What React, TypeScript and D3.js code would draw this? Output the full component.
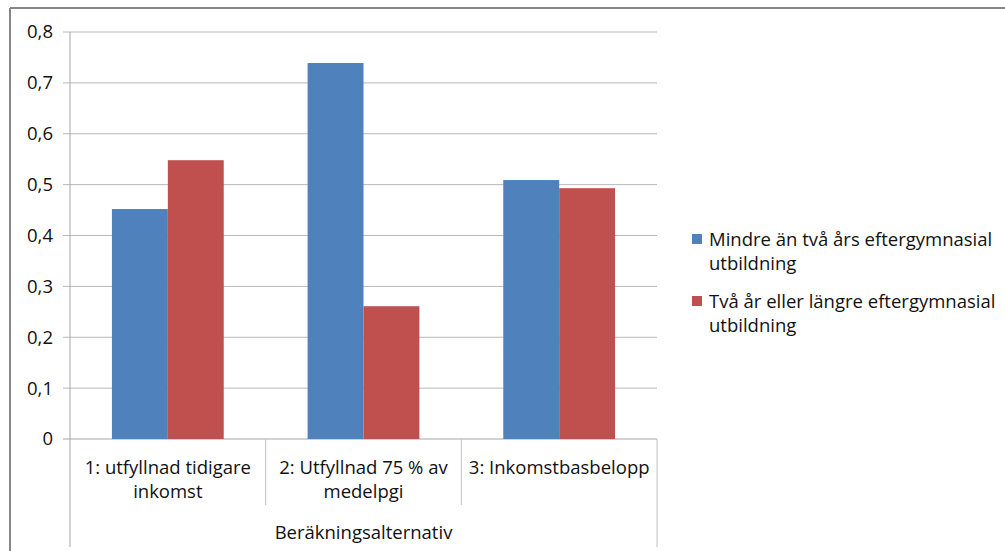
import React from 'react'
import * as d3 from 'd3'

const categories = ['1: utfyllnad tidigare|inkomst', '2: Utfyllnad 75 % av|medelpgi', '3: Inkomstbasbelopp']
const seriesNames = [
  'Mindre än två års eftergymnasial|utbildning',
  'Två år eller längre eftergymnasial|utbildning',
]
const seriesA = [0.452, 0.739, 0.509]
const seriesB = [0.548, 0.261, 0.493]
const yTicks = [0, 0.1, 0.2, 0.3, 0.4, 0.5, 0.6, 0.7, 0.8]
const colors = ['#4f81bd', '#c0504d']
const axisTitle = 'Beräkningsalternativ'

export default function App() {
  const W = 1005
  const H = 551
  const left = 70
  const right = 657
  const top = 32
  const bottom = 439
  const font = "'Open Sans', Lato, sans-serif"
  const fs = 18.5

  const x0 = d3.scaleBand<string>().domain(categories).range([left, right]).paddingInner(0).paddingOuter(0)
  const x1 = d3.scaleBand<number>().domain([0, 1]).range([0, x0.bandwidth()]).paddingOuter(0.75).paddingInner(0)
  const y = d3.scaleLinear().domain([0, 0.8]).range([bottom, top])
  const fmt = (v: number) => (v === 0 ? '0' : d3.format('.1f')(v).replace('.', ','))
  const series = [seriesA, seriesB]

  return (
    <svg width={W} height={H} style={{ position: 'absolute', left: 0, top: 0 }} fontFamily={font}>
      <rect x={0} y={0} width={W} height={H} fill="#fff" />
      {/* outer frame */}
      <line x1={10} x2={10} y1={8} y2={H} stroke="#868686" strokeWidth={2} />
      <line x1={10} x2={W} y1={8} y2={8} stroke="#868686" strokeWidth={2} />

      {/* gridlines and y labels */}
      {yTicks.map((t) => (
        <g key={t}>
          <line x1={63} x2={right} y1={y(t)} y2={y(t)} stroke={t === 0 ? '#a6a6a6' : '#b8b8b8'} strokeWidth={1} />
          <text x={53} y={y(t)} dy="0.35em" textAnchor="end" fontSize={fs} fill="#111">
            {fmt(t)}
          </text>
        </g>
      ))}
      <line x1={left} x2={left} y1={top} y2={547} stroke="#a6a6a6" />

      {/* bars */}
      {categories.map((c, i) =>
        series.map((s, k) => (
          <rect
            key={c + k}
            x={(x0(c) ?? 0) + (x1(k) ?? 0)}
            y={y(s[i])}
            width={x1.bandwidth()}
            height={bottom - y(s[i])}
            fill={colors[k]}
          />
        ))
      )}

      {/* category separators */}
      {categories.map((c, i) => {
        const xs = (x0(c) ?? 0) + x0.bandwidth()
        return (
          <line key={'sep' + i} x1={xs} x2={xs} y1={bottom} y2={i === categories.length - 1 ? 547 : 505} stroke="#c0c0c0" />
        )
      })}

      {/* category labels */}
      {categories.map((c) => {
        const cx = (x0(c) ?? 0) + x0.bandwidth() / 2
        return (
          <text key={c} x={cx} y={474} textAnchor="middle" fontSize={fs} fill="#111">
            {c.split('|').map((l, j) => (
              <tspan key={j} x={cx} dy={j === 0 ? 0 : 24}>
                {l}
              </tspan>
            ))}
          </text>
        )
      })}
      <text x={(left + right) / 2} y={539} textAnchor="middle" fontSize={fs} fill="#111">
        {axisTitle}
      </text>

      {/* legend */}
      {seriesNames.map((n, k) => {
        const ly = 246 + k * 62
        return (
          <g key={n}>
            <rect x={692} y={ly - 12} width={10} height={10} fill={colors[k]} />
            <text x={709} y={ly} fontSize={fs} fill="#111">
              {n.split('|').map((l, j) => (
                <tspan key={j} x={709} dy={j === 0 ? 0 : 24}>
                  {l}
                </tspan>
              ))}
            </text>
          </g>
        )
      })}
    </svg>
  )
}
